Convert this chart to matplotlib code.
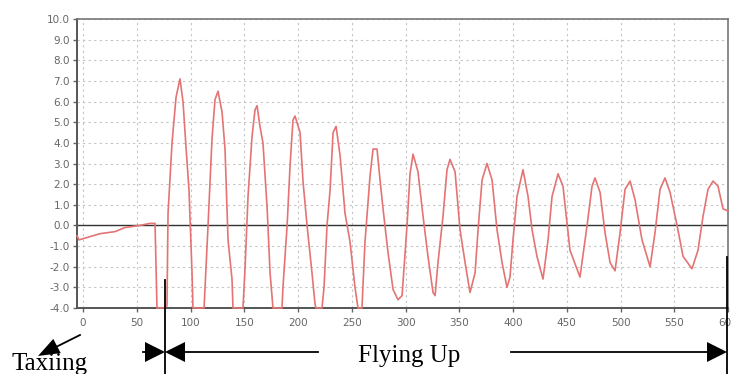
import matplotlib.pyplot as plt
from matplotlib.lines import Line2D
from matplotlib.patches import Polygon

plt.rcParams["axes.unicode_minus"] = False

# readings (time, value); flat -4.0 stretches are the clipped troughs
t = [-5.6, -3.7, 15.8, 29.8, 39.1, 53.0, 62.3, 67.0, 68.8, 75.3,
     78.1, 79.1, 82.8, 86.5, 90.2, 93.0, 95.8, 98.6, 101.4, 102.3, 112.6,
     116.3, 120.0, 122.8, 125.6, 129.3, 132.1, 134.9, 138.6, 139.5, 148.8,
     150.7, 153.5, 157.2, 160.0, 161.9, 164.6, 167.4, 171.2, 174.0, 176.7, 185.1,
     186.0, 189.8, 192.6, 195.3, 197.2, 201.9, 204.7, 208.4, 213.0, 215.8, 216.7, 222.3,
     224.2, 227.0, 229.8, 232.6, 235.4, 239.1, 243.7, 248.4, 253.0, 255.8, 259.5,
     262.3, 267.0, 269.8, 273.5, 276.3, 279.1, 283.7, 288.4, 293.0, 296.8, 301.4,
     304.2, 307.0, 311.6, 316.3, 320.9, 325.6, 327.5, 330.2, 334.9, 338.6,
     341.4, 346.1, 350.7, 355.4, 360.0, 364.7, 367.5, 371.2,
     375.8, 380.5, 385.1, 389.8, 394.4, 397.2, 400.0, 403.7,
     409.3, 414.0, 417.7, 422.3, 427.9, 432.6, 436.3,
     441.9, 446.5, 453.0, 462.3, 468.9, 473.5,
     476.3, 481.0, 485.6, 490.3, 494.9, 499.6, 504.2,
     508.9, 513.5, 520.0, 527.5, 532.1, 536.8,
     541.4, 546.1, 552.6, 558.2, 566.5, 572.1, 576.8, 581.4,
     586.1, 590.7, 595.4, 600.0]
v = [-0.5, -0.7, -0.4, -0.3, -0.1, 0.0, 0.1, 0.1, -4.0, -4.0,
     -3.9, 0.6, 4.0, 6.2, 7.1, 6.0, 3.8, 1.7, -2.3, -4.0, -4.0,
     0.0, 4.2, 6.1, 6.5, 5.5, 3.7, -0.7, -2.6, -4.0, -4.0,
     -2.1, 1.4, 4.3, 5.6, 5.8, 4.8, 4.0, 0.9, -2.3, -4.0, -4.0,
     -3.0, -0.05, 2.9, 5.1, 5.3, 4.5, 2.1, 0.0, -2.3, -3.8, -4.0, -4.0,
     -3.0, 0.0, 1.7, 4.5, 4.8, 3.4, 0.6, -0.8, -3.0, -4.0, -4.0,
     -0.8, 2.4, 3.7, 3.7, 2.2, 0.8, -1.3, -3.1, -3.6, -3.4, 0.0,
     2.5, 3.45, 2.6, 0.45, -1.5, -3.25, -3.4, -1.8, 0.45, 2.7,
     3.2, 2.6, -0.2, -1.8, -3.25, -2.3, -0.2, 2.2,
     3.0, 2.2, -0.2, -1.8, -3.0, -2.5, -0.7, 1.4,
     2.7, 1.4, -0.2, -1.5, -2.6, -0.7, 1.4,
     2.5, 1.9, -1.2, -2.5, 0.0, 1.9,
     2.3, 1.6, -0.35, -1.8, -2.2, -0.35, 1.75,
     2.15, 1.25, -0.7, -2.0, -0.35, 1.75,
     2.3, 1.6, 0.0, -1.5, -2.1, -1.2, 0.45, 1.75,
     2.15, 1.9, 0.8, 0.7]

x_ticks = list(range(0, 601, 50))
y_ticks = [y * 1.0 for y in range(-4, 11)]

W, H = 731, 374
fig = plt.figure(figsize=(W / 100, H / 100), dpi=100)
ax = fig.add_axes([77 / W, (H - 308) / H, 651 / W, 289 / H])

ax.plot(t, v, color="#e47474", lw=1.2, zorder=3, clip_on=False)
ax.axhline(0, color="#333333", lw=1.0, zorder=2)

ax.set_xlim(-5.6, 600)
ax.set_ylim(-4, 10)
ax.set_xticks(x_ticks)
ax.set_yticks(y_ticks)
ax.set_yticklabels([f"{y:.1f}" for y in y_ticks])
ax.grid(True, color="#c4c4c4", ls=(0, (2, 3)), lw=0.8)
ax.tick_params(labelsize=7.5, colors="#666666", length=3, width=1, pad=2)
ax.tick_params(axis="x", pad=4)
for s in ["left", "bottom"]:
    ax.spines[s].set_color("#555555")
    ax.spines[s].set_linewidth(1.4)
for s in ["top", "right"]:
    ax.spines[s].set_color("#777777")
    ax.spines[s].set_linewidth(1.2)


# annotations below the chart, in pixel positions of the picture
def fx(px):
    return px / W


def fy(py):
    return (H - py) / H


def line(x0, y0, x1, y1):
    fig.add_artist(Line2D([fx(x0), fx(x1)], [fy(y0), fy(y1)],
                          transform=fig.transFigure, color="black", lw=1.3))


def head(tip, base, half):
    (tx, ty), (bx, by) = tip, base
    dx, dy = tx - bx, ty - by
    n = (dx ** 2 + dy ** 2) ** 0.5
    px, py = -dy / n * half, dx / n * half
    pts = [(fx(tx), fy(ty)), (fx(bx + px), fy(by + py)), (fx(bx - px), fy(by - py))]
    fig.add_artist(Polygon(pts, closed=True, transform=fig.transFigure,
                           color="black", lw=0))


serif = "Liberation Serif"
fig.text(fx(12), fy(370), "Taxiing", family=serif, fontsize=18, va="baseline")
fig.text(fx(358), fy(362), "Flying Up", family=serif, fontsize=18, va="baseline")

# small arrow to "Taxiing"
line(80, 335, 50, 350)
head((38, 356), (57, 346), 8)

# vertical markers
line(165, 280, 165, 374)
line(727, 257, 727, 374)

# horizontal arrows
line(143, 352, 150, 352)
head((165, 352), (145, 352), 10)
head((165, 352), (185, 352), 10)
line(185, 352, 318, 352)
line(511, 352, 710, 352)
head((727, 352), (707, 352), 10)

fig.savefig("out.png", dpi=100)
